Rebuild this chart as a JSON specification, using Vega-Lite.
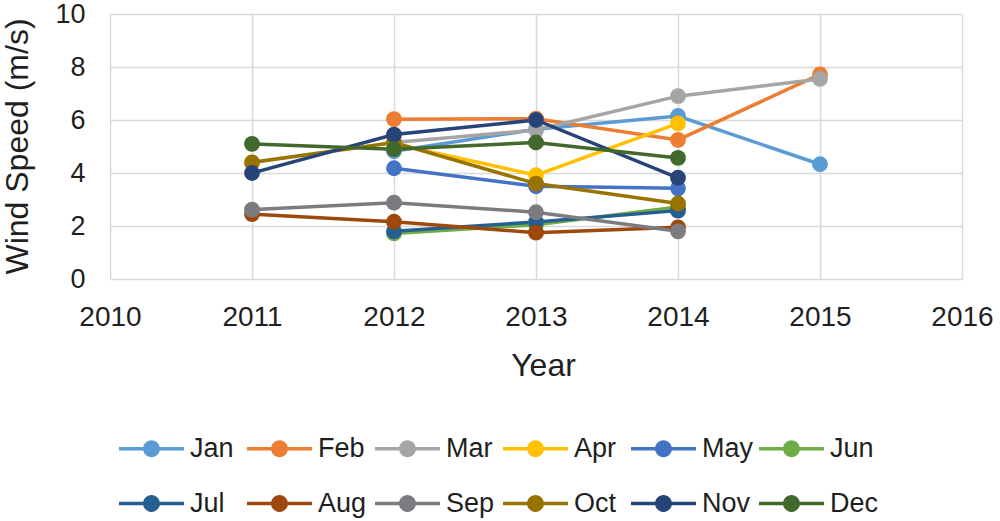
{
  "$schema": "https://vega.github.io/schema/vega-lite/v6.json",
  "width": 852,
  "height": 265,
  "autosize": "none",
  "padding": {"left": 110, "top": 14, "right": 38, "bottom": 242},
  "background": "white",
  "config": {
    "view": {"stroke": null},
    "font": "Liberation Sans",
    "axis": {"gridColor": "#d9d9d9", "gridWidth": 1.5, "domain": false, "ticks": false, "labelColor": "#1f1f1f", "titleColor": "#1f1f1f", "labelFont": "Liberation Sans", "titleFont": "Liberation Sans", "titleFontWeight": "normal"}
  },
  "data": {"values": [
    {"Month": "Jan", "Year": 2012, "Speed": 4.82},
    {"Month": "Jan", "Year": 2013, "Speed": 5.65},
    {"Month": "Jan", "Year": 2014, "Speed": 6.15},
    {"Month": "Jan", "Year": 2015, "Speed": 4.33},
    {"Month": "Feb", "Year": 2012, "Speed": 6.03},
    {"Month": "Feb", "Year": 2013, "Speed": 6.05},
    {"Month": "Feb", "Year": 2014, "Speed": 5.25},
    {"Month": "Feb", "Year": 2015, "Speed": 7.72},
    {"Month": "Mar", "Year": 2012, "Speed": 5.15},
    {"Month": "Mar", "Year": 2013, "Speed": 5.62},
    {"Month": "Mar", "Year": 2014, "Speed": 6.9},
    {"Month": "Mar", "Year": 2015, "Speed": 7.55},
    {"Month": "Apr", "Year": 2012, "Speed": 5.1},
    {"Month": "Apr", "Year": 2013, "Speed": 3.92},
    {"Month": "Apr", "Year": 2014, "Speed": 5.87},
    {"Month": "May", "Year": 2012, "Speed": 4.18},
    {"Month": "May", "Year": 2013, "Speed": 3.5},
    {"Month": "May", "Year": 2014, "Speed": 3.42},
    {"Month": "Jun", "Year": 2012, "Speed": 1.72},
    {"Month": "Jun", "Year": 2013, "Speed": 2.05},
    {"Month": "Jun", "Year": 2014, "Speed": 2.72},
    {"Month": "Jul", "Year": 2012, "Speed": 1.8},
    {"Month": "Jul", "Year": 2013, "Speed": 2.15},
    {"Month": "Jul", "Year": 2014, "Speed": 2.58},
    {"Month": "Aug", "Year": 2011, "Speed": 2.45},
    {"Month": "Aug", "Year": 2012, "Speed": 2.16},
    {"Month": "Aug", "Year": 2013, "Speed": 1.75},
    {"Month": "Aug", "Year": 2014, "Speed": 1.95},
    {"Month": "Sep", "Year": 2011, "Speed": 2.62},
    {"Month": "Sep", "Year": 2012, "Speed": 2.88},
    {"Month": "Sep", "Year": 2013, "Speed": 2.52},
    {"Month": "Sep", "Year": 2014, "Speed": 1.8},
    {"Month": "Oct", "Year": 2011, "Speed": 4.4},
    {"Month": "Oct", "Year": 2012, "Speed": 5.15},
    {"Month": "Oct", "Year": 2013, "Speed": 3.6},
    {"Month": "Oct", "Year": 2014, "Speed": 2.85},
    {"Month": "Nov", "Year": 2011, "Speed": 4.0},
    {"Month": "Nov", "Year": 2012, "Speed": 5.45},
    {"Month": "Nov", "Year": 2013, "Speed": 6.0},
    {"Month": "Nov", "Year": 2014, "Speed": 3.82},
    {"Month": "Dec", "Year": 2011, "Speed": 5.1},
    {"Month": "Dec", "Year": 2012, "Speed": 4.9},
    {"Month": "Dec", "Year": 2013, "Speed": 5.15},
    {"Month": "Dec", "Year": 2014, "Speed": 4.57}
  ]},
  "encoding": {
    "x": {"field": "Year", "type": "quantitative", "scale": {"domain": [2010, 2016], "nice": false, "zero": false},
      "axis": {"values": [2010, 2011, 2012, 2013, 2014, 2015, 2016], "format": "d", "labelFontSize": 28, "labelPadding": 24, "labelFlush": false, "title": "Year", "titleFontSize": 32, "titleBaseline": "alphabetic", "titleX": 433, "titleY": 96, "titleAnchor": "middle", "titleAlign": "center"}},
    "y": {"field": "Speed", "type": "quantitative", "scale": {"domain": [0, 10], "nice": false},
      "axis": {"values": [0, 2, 4, 6, 8, 10], "labelFontSize": 27, "labelPadding": 25, "title": "Wind Speed (m/s)", "titleFontSize": 32, "titleBaseline": "alphabetic", "titleAngle": -90, "titleX": -83, "titleY": 132, "titleAlign": "center"}},
    "color": {"field": "Month", "type": "nominal",
      "scale": {"domain": ["Jan", "Feb", "Mar", "Apr", "May", "Jun", "Jul", "Aug", "Sep", "Oct", "Nov", "Dec"],
        "range": ["#5B9BD5", "#ED7D31", "#A5A5A5", "#FFC000", "#4472C4", "#70AD47", "#255E91", "#9E480E", "#7C7C80", "#997300", "#264478", "#43682B"]},
      "legend": {"orient": "none", "legendX": 25, "legendY": 418, "direction": "horizontal", "columns": 6, "title": null,
        "gridAlign": "all", "columnPadding": 5, "rowPadding": 25, "padding": 0,
        "symbolType": "M-2,-0.11L-0.5,-0.11L-0.5,0.11L-2,0.11Z M0.52,0A0.52,0.52,0,1,1,-0.52,0A0.52,0.52,0,1,1,0.52,0Z M0.5,-0.11L2,-0.11L2,0.11L0.5,0.11Z",
        "symbolSize": 1056, "symbolStrokeWidth": 0, "labelFontSize": 27, "labelOffset": 22, "labelColor": "#1f1f1f", "labelFont": "Liberation Sans",
        "encode": {"symbols": {"update": {"fill": {"scale": "color", "field": "value"}, "size": {"value": 1056}, "strokeWidth": {"value": 0}, "opacity": {"value": 1}, "fillOpacity": {"value": 1}}}}}
    }
  },
  "layer": [
    {"mark": {"type": "line", "strokeWidth": 3.5}},
    {"mark": {"type": "point", "filled": true, "size": 250, "opacity": 1, "shape": "circle"}}
  ]
}
